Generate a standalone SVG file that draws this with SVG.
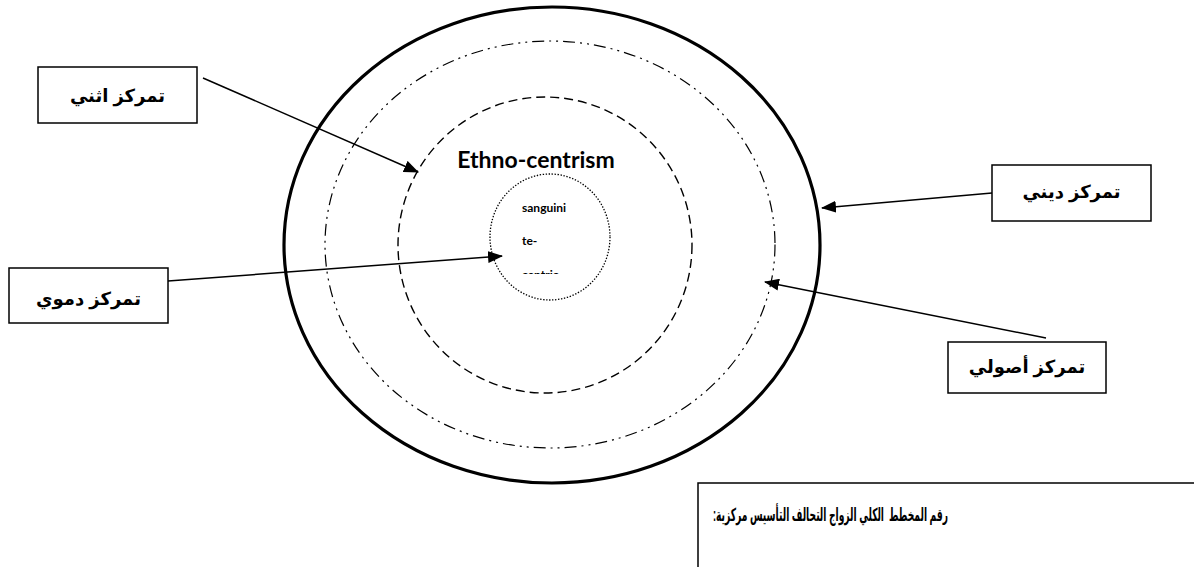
<svg xmlns="http://www.w3.org/2000/svg" width="1194" height="567" viewBox="0 0 1194 567">
  <style>
    .box { fill: #fff; stroke: #000; stroke-width: 1.5; }
    .ar { font-family: "Liberation Sans", "DejaVu Sans", sans-serif; font-weight: bold; font-size: 18px; fill: #000; text-anchor: middle; direction: rtl; unicode-bidi: embed; }
    .en { font-family: Lato, "Open Sans", sans-serif; font-weight: bold; fill: #000; }
    .conn { stroke: #000; stroke-width: 1.5; fill: none; marker-end: url(#arrow); }
  </style>
  <defs>
    <marker id="arrow" markerUnits="userSpaceOnUse" markerWidth="16" markerHeight="12" refX="14" refY="6" orient="auto">
      <path d="M0,0 L15,6 L0,12 Z" fill="#000"/>
    </marker>
    <clipPath id="innerClip">
      <rect x="480" y="150" width="140" height="124"/>
    </clipPath>
  </defs>

  <rect width="1194" height="567" fill="#fff"/>

  <!-- concentric rings -->
  <g id="ring-religious">
    <ellipse cx="552" cy="245" rx="268" ry="238" fill="none" stroke="#000" stroke-width="3.2"/>
  </g>
  <g id="ring-fundamental">
    <ellipse cx="550" cy="244.5" rx="225" ry="203.5" fill="none" stroke="#000" stroke-width="1.2" stroke-dasharray="12 5 2 5 2 5"/>
  </g>
  <g id="ring-ethnic">
    <ellipse cx="545" cy="245" rx="147" ry="148" fill="none" stroke="#000" stroke-width="1.4" stroke-dasharray="9 5"/>
    <text class="en" x="536" y="168" font-size="23" text-anchor="middle">Ethno-centrism</text>
  </g>
  <g id="ring-blood">
    <ellipse cx="550" cy="237" rx="60" ry="63" fill="none" stroke="#000" stroke-width="1.3" stroke-dasharray="1.4 1.6"/>
    <g clip-path="url(#innerClip)">
      <text class="en" x="522" y="212" font-size="12">sanguini</text>
      <text class="en" x="522" y="245" font-size="12">te-</text>
      <text class="en" x="522" y="279" font-size="12">centric</text>
    </g>
  </g>

  <!-- connectors -->
  <g id="connectors">
    <line class="conn" x1="203" y1="78" x2="418" y2="172"/>
    <line class="conn" x1="168" y1="281" x2="502" y2="256"/>
    <line class="conn" x1="992" y1="193" x2="822" y2="208"/>
    <line class="conn" x1="1046" y1="338" x2="765" y2="282"/>
  </g>

  <!-- label boxes -->
  <g id="label-ethnic">
    <rect class="box" x="38" y="67" width="159" height="56"/>
    <text class="ar" x="117.5" y="102">تمركز اثني</text>
  </g>
  <g id="label-blood">
    <rect class="box" x="9" y="268" width="159" height="55"/>
    <text class="ar" x="88.5" y="305">تمركز دموي</text>
  </g>
  <g id="label-religious">
    <rect class="box" x="992" y="165" width="159" height="56"/>
    <text class="ar" x="1071.5" y="198">تمركز ديني</text>
  </g>
  <g id="label-fundamental">
    <rect class="box" x="948" y="342" width="158" height="51"/>
    <text class="ar" x="1027" y="373">تمركز أصولي</text>
  </g>

  <!-- caption -->
  <g id="caption">
    <rect class="box" x="698" y="483" width="600" height="200"/>
    <text class="ar" x="830.5" y="521" font-size="16" textLength="235" lengthAdjust="spacingAndGlyphs" style="white-space: pre">رقم المخطط  الكلي الزواج التحالف التأسيس مركزية:</text>
  </g>
</svg>
